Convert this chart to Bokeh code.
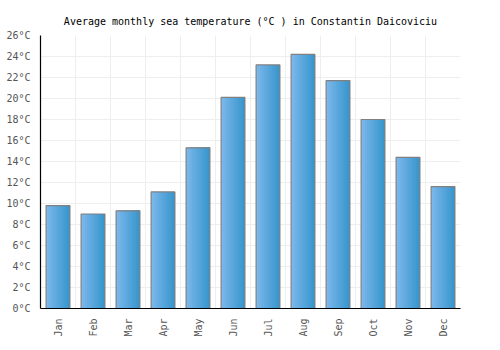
import numpy as np
from bokeh.plotting import figure
from bokeh.models import ColumnDataSource, Range1d, FixedTicker, Title
from bokeh.transform import dodge
from bokeh.embed import file_html
from bokeh.resources import INLINE

months = ["Jan", "Feb", "Mar", "Apr", "May", "Jun", "Jul", "Aug", "Sep", "Oct", "Nov", "Dec"]
temps = [9.8, 9.0, 9.3, 11.1, 15.3, 20.1, 23.2, 24.2, 21.7, 18.0, 14.4, 11.6]
y_ticks = list(range(0, 27, 2))
y_labels = {t: f"{t}°C" for t in y_ticks}

FONT = "DejaVu Sans Mono"
xpos = [i + 0.5 for i in range(len(months))]
src = ColumnDataSource(dict(x=xpos, top=temps, month=months))

p = figure(width=500, height=350, output_backend="svg", toolbar_location=None,
           x_range=Range1d(0, len(months)), y_range=Range1d(0, 26),
           min_border_left=40, min_border_right=40, min_border_top=35, min_border_bottom=42)
p.title = None
p.add_layout(Title(text="Average monthly sea temperature (°C ) in Constantin Daicoviciu",
                   align="center", text_font=FONT, text_font_size="10px",
                   text_font_style="normal", text_color="#000000", standoff=18), "above")
p.outline_line_color = None
p.background_fill_color = "white"

# gradient bars
bar_w = 0.68
n = 12
c0 = np.array([0x7a, 0xb8, 0xeb])
c1 = np.array([0x38, 0x96, 0xcd])
sw = bar_w / n
for k in range(n):
    t = k / (n - 1)
    c = (c0 * (1 - t) + c1 * t).astype(int)
    col = "#%02x%02x%02x" % tuple(c)
    left = -bar_w / 2 + k * sw
    w = bar_w - k * sw
    # each layer covers from its left edge to the bar's right edge, so no seams
    p.vbar(x=dodge("x", left + w / 2), top="top", bottom=0, width=w, source=src,
           fill_color=col, line_color=None)
p.vbar(x="x", top="top", bottom=0, width=bar_w, source=src,
       fill_color=None, line_color="#808080", line_width=1.2)

# axes
p.xaxis.ticker = FixedTicker(ticks=xpos)
p.xaxis.major_label_overrides = {x: m for x, m in zip(xpos, months)}
p.xaxis.major_label_orientation = np.pi / 2
p.yaxis.ticker = FixedTicker(ticks=y_ticks)
p.yaxis.major_label_overrides = y_labels
for ax in (p.xaxis, p.yaxis):
    ax.axis_line_color = "#000000"
    ax.axis_line_width = 1.2
    ax.major_tick_line_color = None
    ax.minor_tick_line_color = None
    ax.major_label_text_font = FONT
    ax.major_label_text_font_size = "10px"
    ax.major_label_text_color = "#555555"
    ax.major_label_standoff = 4

p.xgrid.ticker = FixedTicker(ticks=list(range(len(months) + 1)))
p.xgrid.grid_line_color = "#eeeeee"
p.ygrid.grid_line_color = "#eeeeee"

open("out.html", "w").write(file_html(p, INLINE))
